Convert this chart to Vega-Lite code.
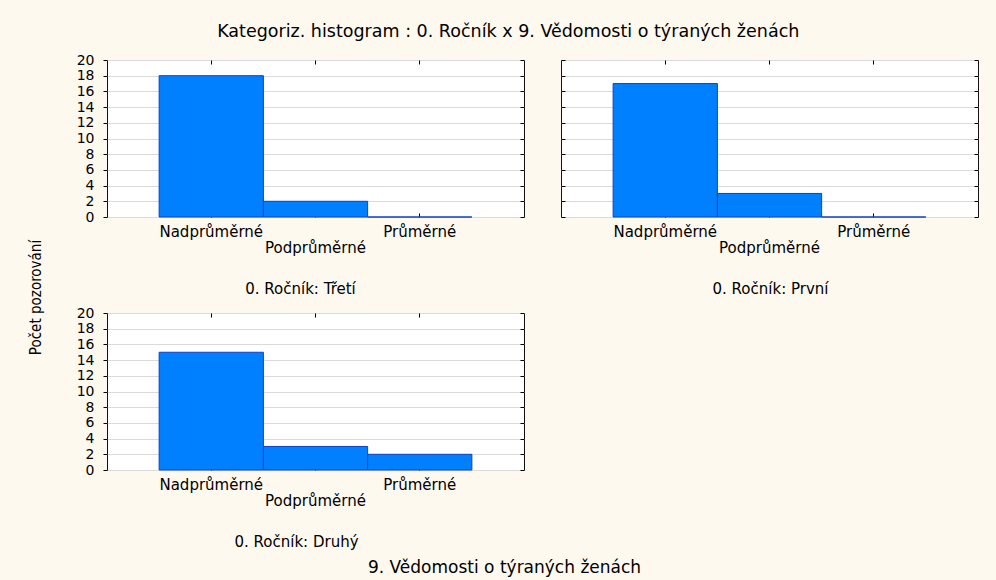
{
  "$schema": "https://vega.github.io/schema/vega-lite/v6.json",
  "background": "#FEF9EF",
  "padding": {"left": 27, "top": 23, "right": 19, "bottom": 5},
  "bounds": "flush",
  "title": {
    "text": "Kategoriz. histogram : 0. Ročník x 9. Vědomosti o týraných ženách",
    "font": "DejaVu Sans", "fontSize": 17.5, "fontWeight": "normal", "color": "#000",
    "anchor": "middle", "frame": "bounds", "dx": 5, "offset": 12
  },
  "data": {
    "values": [
      {"rocnik": "Třetí", "kategorie": "Nadprůměrné", "pocet": 18},
      {"rocnik": "Třetí", "kategorie": "Podprůměrné", "pocet": 2},
      {"rocnik": "Třetí", "kategorie": "Průměrné", "pocet": 0},
      {"rocnik": "První", "kategorie": "Nadprůměrné", "pocet": 17},
      {"rocnik": "První", "kategorie": "Podprůměrné", "pocet": 3},
      {"rocnik": "První", "kategorie": "Průměrné", "pocet": 0},
      {"rocnik": "Druhý", "kategorie": "Nadprůměrné", "pocet": 15},
      {"rocnik": "Druhý", "kategorie": "Podprůměrné", "pocet": 3},
      {"rocnik": "Druhý", "kategorie": "Průměrné", "pocet": 2}
    ]
  },
  "columns": 2,
  "spacing": {"row": 96, "column": 37},
  "concat": [
    {
      "width": 417, "height": 157,
      "transform": [{"filter": "datum.rocnik == 'Třetí'"}],
      "layer": [
        {
          "mark": {"type": "bar", "fill": "#0080FF", "stroke": "#1040C0", "strokeWidth": 1},
          "encoding": {
            "x": {"field": "kategorie", "type": "nominal", "sort": ["Nadprůměrné", "Podprůměrné", "Průměrné"],
              "scale": {"paddingInner": 0, "paddingOuter": 0.5},
              "axis": {"orient": "bottom", "title": "0. Ročník: Třetí", "titleX": 193, "titleY": 71,
                "titleAlign": "center", "titleBaseline": "middle", "titleAngle": 0,
                "labelAngle": 0, "labelBaseline": "top", "labelPadding": 11, "labelLineHeight": 16,
                "labelExpr": "datum.value == 'Podprůměrné' ? ['', datum.value] : datum.value",
                "tickSize": -4, "grid": false}},
            "y": {"field": "pocet", "type": "quantitative", "scale": {"domain": [0, 20]},
              "axis": {"orient": "left", "values": [0, 2, 4, 6, 8, 10, 12, 14, 16, 18, 20], "tickSize": 4, "labelPadding": 9,
                "grid": true, "title": "Počet pozorování", "titleX": -72, "titleY": 237, "titleAngle": 270,
                "titleAlign": "center", "titleBaseline": "middle", "titleFont": "DejaVu Sans Condensed, Liberation Sans Narrow, sans-serif", "titleFontSize": 15}}
          }
        },
        {
          "mark": {"type": "bar", "opacity": 0},
          "encoding": {
            "x": {"field": "kategorie", "type": "nominal", "sort": ["Nadprůměrné", "Podprůměrné", "Průměrné"],
              "scale": {"paddingInner": 0, "paddingOuter": 0.5},
              "axis": {"orient": "top", "labels": false, "title": null, "tickSize": -4, "grid": false}},
            "y": {"field": "pocet", "type": "quantitative", "scale": {"domain": [0, 20]},
              "axis": {"orient": "right", "values": [0, 2, 4, 6, 8, 10, 12, 14, 16, 18, 20], "labels": false, "title": null, "tickSize": -4, "grid": false}}
          }
        }
      ],
      "resolve": {"axis": {"x": "independent", "y": "independent"}}
    },
    {
      "width": 417, "height": 157,
      "transform": [{"filter": "datum.rocnik == 'První'"}],
      "layer": [
        {
          "mark": {"type": "bar", "fill": "#0080FF", "stroke": "#1040C0", "strokeWidth": 1},
          "encoding": {
            "x": {"field": "kategorie", "type": "nominal", "sort": ["Nadprůměrné", "Podprůměrné", "Průměrné"],
              "scale": {"paddingInner": 0, "paddingOuter": 0.5},
              "axis": {"orient": "bottom", "title": "0. Ročník: První", "titleX": 209, "titleY": 71,
                "titleAlign": "center", "titleBaseline": "middle", "titleAngle": 0,
                "labelAngle": 0, "labelBaseline": "top", "labelPadding": 11, "labelLineHeight": 16,
                "labelExpr": "datum.value == 'Podprůměrné' ? ['', datum.value] : datum.value",
                "tickSize": -4, "grid": false}},
            "y": {"field": "pocet", "type": "quantitative", "scale": {"domain": [0, 20]},
              "axis": {"orient": "left", "values": [0, 2, 4, 6, 8, 10, 12, 14, 16, 18, 20], "tickSize": -4, "labels": false,
                "grid": true, "title": null}}
          }
        },
        {
          "mark": {"type": "bar", "opacity": 0},
          "encoding": {
            "x": {"field": "kategorie", "type": "nominal", "sort": ["Nadprůměrné", "Podprůměrné", "Průměrné"],
              "scale": {"paddingInner": 0, "paddingOuter": 0.5},
              "axis": {"orient": "top", "labels": false, "title": null, "tickSize": -4, "grid": false}},
            "y": {"field": "pocet", "type": "quantitative", "scale": {"domain": [0, 20]},
              "axis": {"orient": "right", "values": [0, 2, 4, 6, 8, 10, 12, 14, 16, 18, 20], "labels": false, "title": null, "tickSize": -4, "grid": false}}
          }
        }
      ],
      "resolve": {"axis": {"x": "independent", "y": "independent"}}
    },
    {
      "width": 417, "height": 157,
      "transform": [{"filter": "datum.rocnik == 'Druhý'"}],
      "layer": [
        {
          "mark": {"type": "bar", "fill": "#0080FF", "stroke": "#1040C0", "strokeWidth": 1},
          "encoding": {
            "x": {"field": "kategorie", "type": "nominal", "sort": ["Nadprůměrné", "Podprůměrné", "Průměrné"],
              "scale": {"paddingInner": 0, "paddingOuter": 0.5},
              "axis": {"orient": "bottom", "title": "0. Ročník: Druhý", "titleX": 189, "titleY": 71,
                "titleAlign": "center", "titleBaseline": "middle", "titleAngle": 0,
                "labelAngle": 0, "labelBaseline": "top", "labelPadding": 11, "labelLineHeight": 16,
                "labelExpr": "datum.value == 'Podprůměrné' ? ['', datum.value] : datum.value",
                "tickSize": -4, "grid": false}},
            "y": {"field": "pocet", "type": "quantitative", "scale": {"domain": [0, 20]},
              "axis": {"orient": "left", "values": [0, 2, 4, 6, 8, 10, 12, 14, 16, 18, 20], "tickSize": 4, "labelPadding": 9,
                "grid": true, "title": null}}
          }
        },
        {
          "mark": {"type": "bar", "opacity": 0},
          "encoding": {
            "x": {"field": "kategorie", "type": "nominal", "sort": ["Nadprůměrné", "Podprůměrné", "Průměrné"],
              "scale": {"paddingInner": 0, "paddingOuter": 0.5},
              "axis": {"orient": "top", "labels": false, "tickSize": -4, "grid": false,
                "title": "9. Vědomosti o týraných ženách", "titleX": 397, "titleY": 254,
                "titleAlign": "center", "titleBaseline": "middle", "titleAngle": 0, "titleFontSize": 17}},
            "y": {"field": "pocet", "type": "quantitative", "scale": {"domain": [0, 20]},
              "axis": {"orient": "right", "values": [0, 2, 4, 6, 8, 10, 12, 14, 16, 18, 20], "labels": false, "title": null, "tickSize": -4, "grid": false}}
          }
        }
      ],
      "resolve": {"axis": {"x": "independent", "y": "independent"}}
    }
  ],
  "config": {
    "font": "DejaVu Sans",
    "view": {"stroke": "#111", "strokeWidth": 1, "fill": "#FFFFFF"},
    "axis": {
      "domain": false,
      "labelFont": "DejaVu Sans", "labelFontSize": 15, "labelColor": "#000",
      "tickColor": "#000", "tickWidth": 1,
      "titleFont": "DejaVu Sans", "titleFontSize": 15, "titleFontWeight": "normal", "titleColor": "#000",
      "gridColor": "#DADADA", "gridWidth": 1
    },
    "axisY": {"labelFontSize": 14}
  }
}
